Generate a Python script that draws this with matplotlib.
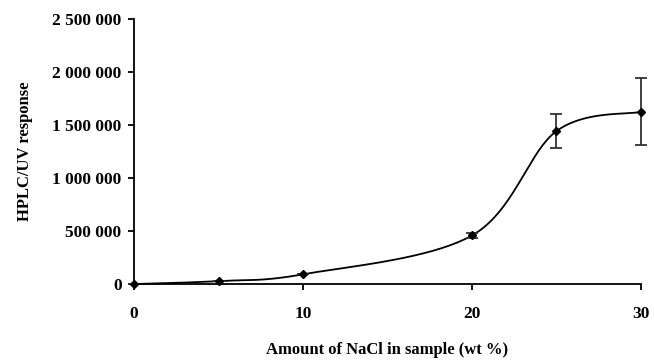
import numpy as np
import matplotlib
matplotlib.use('Agg')
import matplotlib.pyplot as plt
from matplotlib.ticker import FuncFormatter

# NaCl content [wt %] and HPLC/UV response
nacl = [0, 5, 10, 20, 25, 30]
response = [0, 28000, 92000, 458000, 1443000, 1625000]
response_err = [0, 0, 0, 25000, 160000, 315000]


def smooth_curve(x, y, n=40):
    # Catmull-Rom style smoothing through the points (like a spreadsheet smoothed line)
    x = np.asarray(x, float)
    y = np.asarray(y, float)
    sx = x / (x.max() - x.min())
    sy = y / (y.max() - y.min())
    px = np.concatenate([[sx[0]], sx, [sx[-1]]])
    py = np.concatenate([[sy[0]], sy, [sy[-1]]])
    out_x, out_y = [], []
    t = np.linspace(0, 1, n)
    for i in range(1, len(px) - 2):
        p0 = np.array([px[i], py[i]])
        p3 = np.array([px[i + 1], py[i + 1]])
        p1 = p0 + (np.array([px[i + 1], py[i + 1]]) - np.array([px[i - 1], py[i - 1]])) / 6
        p2 = p3 - (np.array([px[i + 2], py[i + 2]]) - np.array([px[i], py[i]])) / 6
        b = ((1 - t) ** 3)[:, None] * p0 + (3 * (1 - t) ** 2 * t)[:, None] * p1 \
            + (3 * (1 - t) * t ** 2)[:, None] * p2 + (t ** 3)[:, None] * p3
        out_x.extend(b[:, 0])
        out_y.extend(b[:, 1])
    return np.array(out_x) * (x.max() - x.min()), np.array(out_y) * (y.max() - y.min())


plt.rcParams['font.family'] = ['Liberation Serif', 'DejaVu Serif']
plt.rcParams['font.weight'] = 'bold'

fig = plt.figure(figsize=(6.54, 3.6), dpi=100)
ax = fig.add_axes([0.205, 0.211, 0.775, 0.736])

cx, cy = smooth_curve(nacl, response)
ax.plot(cx, cy, color='black', linewidth=1.3, clip_on=False)
ax.errorbar(nacl, response, yerr=response_err, fmt='D', color='black', markersize=4.5,
            ecolor='#333333', elinewidth=1.3, capsize=4, capthick=1.3, clip_on=False)

ax.set_xlim(0, 30)
ax.set_ylim(0, 2500000)
ax.set_xticks([0, 10, 20, 30])
ax.set_yticks(np.arange(0, 2500001, 500000))
ax.yaxis.set_major_formatter(FuncFormatter(lambda v, p: f'{int(v):,}'.replace(',', ' ')))

for s in ['top', 'right']:
    ax.spines[s].set_visible(False)
for s in ['left', 'bottom']:
    ax.spines[s].set_linewidth(1.3)
ax.tick_params(axis='both', length=4, width=1.3, labelsize=12.5)
ax.tick_params(axis='x', pad=12)
ax.tick_params(axis='y', pad=5)

ax.set_xlabel('Amount of NaCl in sample (wt %)', fontsize=12, fontweight='bold', labelpad=14.5)
ax.set_ylabel('HPLC/UV response', fontsize=12, fontweight='bold', labelpad=14)

fig.savefig('out.png', dpi=100)
